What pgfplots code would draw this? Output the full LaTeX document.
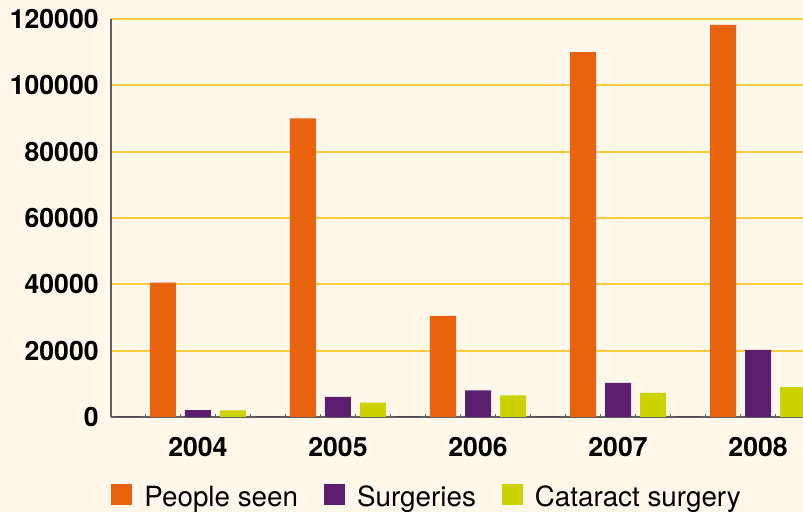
\documentclass[border=0pt]{standalone}
\usepackage{pgfplots}
\pgfplotsset{compat=1.18}
\usepackage{fontspec}
\setmainfont{TeX Gyre Heros}
\definecolor{bg}{RGB}{254,247,234}
\definecolor{cOrange}{RGB}{233,99,14}
\definecolor{cPurple}{RGB}{92,31,112}
\definecolor{cYellow}{RGB}{205,211,0}
\definecolor{gridc}{RGB}{250,204,60}
\definecolor{axisc}{RGB}{95,95,95}
\begin{document}
\begin{tikzpicture}
\fill[bg] (-55.5pt,-47.5pt) rectangle (346pt,208.5pt);
\begin{axis}[at={(0,0)}, anchor=south west, scale only axis,
  width=346pt, height=199pt,
  xmin=-0.621, xmax=4.321, ymin=0, ymax=120000,
  axis x line=bottom, axis y line=left,
  axis line style={axisc, line width=1pt, -},
  ybar, bar width=0.1857,
  ymajorgrids, grid style={gridc, line width=0.9pt},
  xtick={0,1,2,3,4}, xticklabels={2004,2005,2006,2007,2008},
  minor xtick={-0.375,-0.125,0.125,0.375,0.625,0.875,1.125,1.375,1.625,1.875,2.125,2.375,2.625,2.875,3.125,3.375,3.625,3.875,4.125},
  major tick length=0pt, minor tick length=1.6pt,
  xtick align=inside,
  minor tick style={axisc, line width=0.6pt},
  ytick={0,20000,40000,60000,80000,100000,120000},
  yticklabels={0,20000,40000,60000,80000,100000,120000},
  scaled y ticks=false,
  yticklabel style={font=\bfseries\fontsize{13.3}{15}\selectfont, inner sep=0pt, xshift=-6pt},
  xticklabel style={font=\bfseries\fontsize{13.3}{15}\selectfont, inner sep=0pt, yshift=-10pt},
  legend columns=3, legend cell align=left,
  legend style={at={(0,-0.2025)}, anchor=west, draw=none, fill=none, inner sep=0pt,
    font=\fontsize{13.9}{16}\selectfont,
    /tikz/every odd column/.style={column sep=4pt},
    /tikz/every even column/.style={column sep=11pt}},
  mysq/.style={legend image code/.code={\fill[##1] (0pt,-3.8pt) rectangle (10.5pt,6.7pt);}},
]
\addplot[fill=cOrange, draw=none, bar shift=-0.25, mysq] coordinates {(0,40500) (1,90000) (2,30500) (3,110000) (4,118200)};
\addlegendentry{People seen}
\addplot[fill=cPurple, draw=none, bar shift=0, mysq] coordinates {(0,2100) (1,6100) (2,8050) (3,10300) (4,20200)};
\addlegendentry{Surgeries}
\addplot[fill=cYellow, draw=none, bar shift=0.25, mysq] coordinates {(0,2000) (1,4300) (2,6550) (3,7300) (4,9000)};
\addlegendentry{Cataract surgery}
\addplot[draw=axisc!80!black, line width=1.2pt, fill=none, bar shift=0.5, forget plot] coordinates {(-1,0) (0,0) (1,0) (2,0) (3,0) (4,0)};
\end{axis}
\pgfresetboundingbox
\useasboundingbox (-55.5pt,-47.5pt) rectangle (346pt,208.5pt);
\end{tikzpicture}
\end{document}
